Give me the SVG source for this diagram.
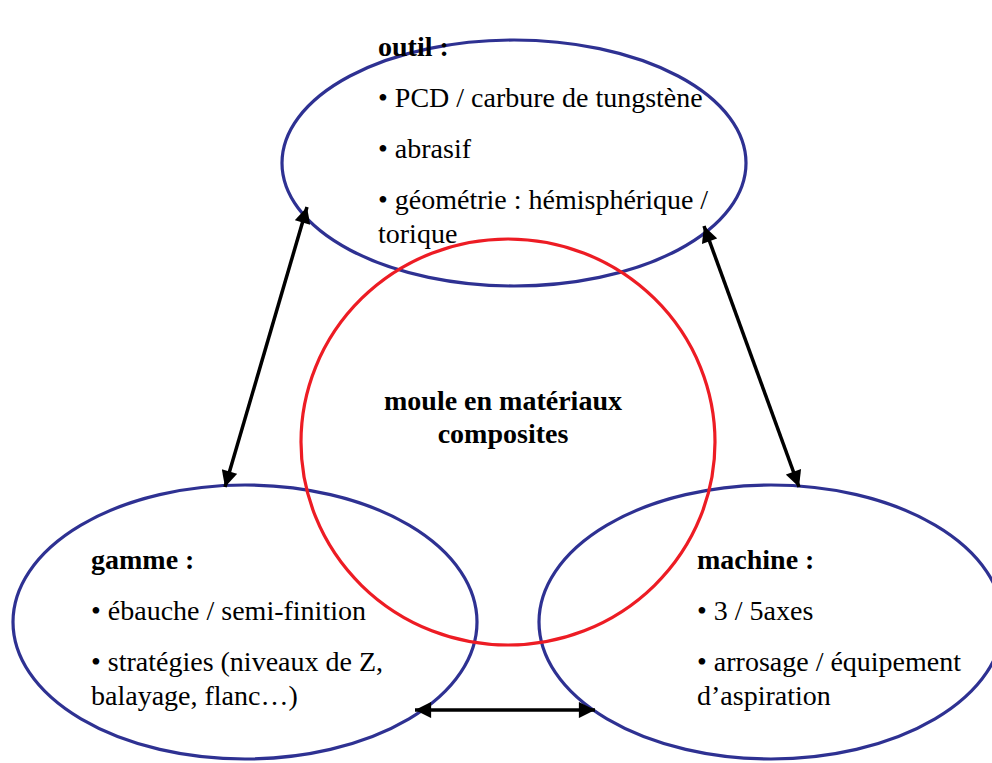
<svg xmlns="http://www.w3.org/2000/svg" width="992" height="763" viewBox="0 0 992 763">
<defs>
<style>
.blue{fill:none;stroke:#2e3192;stroke-width:3.2}
.red{fill:none;stroke:#ed1c24;stroke-width:3.2}
.conn{stroke:#000;stroke-width:3.5;fill:none;marker-start:url(#ah);marker-end:url(#ah)}
text{font-family:"Liberation Serif","Times New Roman",Times,serif;font-size:28px;fill:#000}
.b{font-weight:bold}
</style>
<marker id="ah" viewBox="0 0 10 10" refX="10" refY="5" markerWidth="5" markerHeight="4.6" markerUnits="strokeWidth" orient="auto-start-reverse">
<path d="M0,0 L10,5 L0,10 z" fill="#000"/>
</marker>
</defs>
<rect width="992" height="763" fill="#fff"/>
<g id="outil">
<ellipse class="blue" cx="514" cy="163" rx="232" ry="123"/>
<text x="378" y="56" class="b">outil :</text>
<text x="378" y="107">• PCD / carbure de tungstène</text>
<text x="378" y="158">• abrasif</text>
<text x="378" y="209">• géométrie : hémisphérique /</text>
<text x="378" y="243">torique</text>
</g>
<g id="gamme">
<ellipse class="blue" cx="245" cy="622" rx="232" ry="137"/>
<text x="91" y="569" class="b">gamme :</text>
<text x="91" y="620">• ébauche / semi-finition</text>
<text x="91" y="671">• stratégies (niveaux de Z,</text>
<text x="91" y="705">balayage, flanc…)</text>
</g>
<g id="machine">
<ellipse class="blue" cx="771" cy="622" rx="232" ry="137"/>
<text x="697" y="569" class="b">machine :</text>
<text x="697" y="620">• 3 / 5axes</text>
<text x="697" y="671">• arrosage / équipement</text>
<text x="697" y="705">d’aspiration</text>
</g>
<g id="moule">
<ellipse class="red" cx="508" cy="442" rx="207" ry="203"/>
<text x="503" y="410" class="b" text-anchor="middle">moule en matériaux</text>
<text x="503" y="443" class="b" text-anchor="middle">composites</text>
</g>
<g id="connectors">
<line class="conn" x1="307" y1="207" x2="225" y2="487"/>
<line class="conn" x1="704" y1="226" x2="799" y2="487"/>
<line class="conn" x1="415" y1="710" x2="595" y2="710"/>
</g>
</svg>
